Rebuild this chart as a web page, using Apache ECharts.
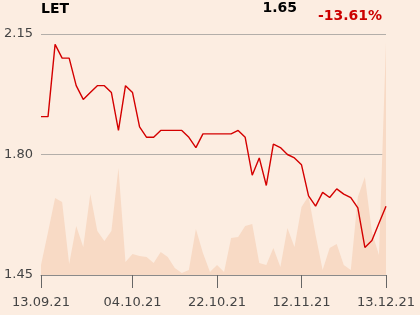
<!DOCTYPE html>
<html>
<head>
<meta charset="utf-8">
<script src="https://cdn.jsdelivr.net/npm/echarts@6/dist/echarts.min.js"></script>
<style>
html,body{margin:0;padding:0;background:#fcede1;}
#c{width:420px;height:315px;}
</style>
</head>
<body>
<div id="c"></div>
<script>
var dates = ['13.09.21','14.09.21','15.09.21','16.09.21','17.09.21','20.09.21','21.09.21','22.09.21','23.09.21','24.09.21',
 '27.09.21','28.09.21','30.09.21','04.10.21','05.10.21','06.10.21','07.10.21','08.10.21','11.10.21','12.10.21',
 '13.10.21','14.10.21','15.10.21','18.10.21','20.10.21','22.10.21','25.10.21','26.10.21','27.10.21','29.10.21',
 '01.11.21','02.11.21','03.11.21','04.11.21','08.11.21','09.11.21','10.11.21','12.11.21','16.11.21','18.11.21',
 '19.11.21','23.11.21','24.11.21','26.11.21','30.11.21','02.12.21','06.12.21','08.12.21','10.12.21','13.12.21'];
var prices = [1.91,1.91,2.12,2.08,2.08,2.00,1.96,1.98,2.00,2.00,
 1.98,1.87,2.00,1.98,1.88,1.85,1.85,1.87,1.87,1.87,
 1.87,1.85,1.82,1.86,1.86,1.86,1.86,1.86,1.87,1.85,
 1.74,1.79,1.71,1.83,1.82,1.80,1.79,1.77,1.68,1.65,
 1.69,1.675,1.70,1.685,1.675,1.645,1.53,1.55,1.60,1.65];
var volumes = [10,43,77,73,11,49,28,81,44,34,
 44,107,13,21,19,18,12,23,18,7,
 2,5,46,22,3,10,3,37,38,49,
 51,12,10,27,8,47,28,68,79,40,
 5,27,31,10,5,78,98,43,20,233];
var tickIdx = [0,13,25,37,49];
var yTicks = [1.45,1.80,2.15];
var ticker = 'LET';
var lastPrice = '1.65';
var change = '-13.61%';

var chart = echarts.init(document.getElementById('c'), null, {renderer:'canvas'});
var showIdx = function(i){ return tickIdx.indexOf(i) >= 0; };
chart.setOption({
  backgroundColor:'#fcede1',
  animation:false,
  grid:{left:41,right:34,top:34,bottom:40},
  graphic:[
    {type:'text',left:41,top:2,style:{text:ticker,font:'bold 14px "DejaVu Sans"',fill:'#000'}},
    {type:'text',right:123,top:1,style:{text:lastPrice,font:'bold 14px "DejaVu Sans"',fill:'#000'}},
    {type:'text',right:38,top:9,style:{text:change,font:'bold 14px "DejaVu Sans"',fill:'#cc0000'}}
  ],
  xAxis:{
    type:'category',data:dates,boundaryGap:false,
    axisLine:{lineStyle:{color:'#8a8a8a',width:1}},
    axisTick:{interval:showIdx,length:13,lineStyle:{color:'#666'}},
    axisLabel:{interval:showIdx,margin:21,color:'#444',fontSize:13,fontFamily:'DejaVu Sans'},
    splitLine:{show:false}
  },
  yAxis:[{
    type:'value',min:yTicks[0],max:yTicks[2],interval:0.35,
    axisLine:{show:false},axisTick:{show:false},
    axisLabel:{margin:8,color:'#444',fontSize:13,fontFamily:'DejaVu Sans',formatter:function(v){return v.toFixed(2);}},
    splitLine:{lineStyle:{color:'#b3aea9',width:1}}
  },{
    type:'value',min:0,max:241,show:false,splitLine:{show:false}
  }],
  series:[{
    type:'line',yAxisIndex:1,data:volumes,symbol:'none',z:1,
    lineStyle:{width:0},areaStyle:{color:'#f8dac5',opacity:1},silent:true
  },{
    type:'line',yAxisIndex:0,data:prices,symbol:'none',z:3,
    lineStyle:{color:'#d40000',width:1.4}
  }]
});
</script>
</body>
</html>
